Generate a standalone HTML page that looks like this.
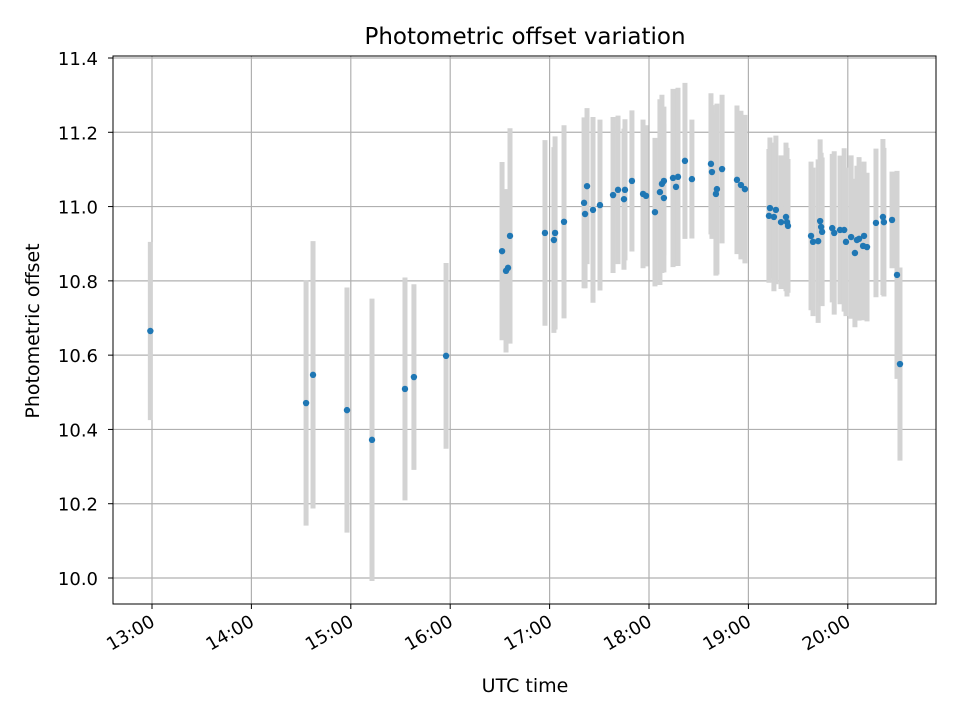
<!DOCTYPE html>
<html><head><meta charset="utf-8"><style>
body{margin:0;background:#fff;width:960px;height:720px;overflow:hidden}
svg text{font-family:"DejaVu Sans","Liberation Sans",sans-serif;fill:#000}
</style></head><body>
<svg id="chart" width="960" height="720" xmlns="http://www.w3.org/2000/svg">
<rect x="0" y="0" width="960" height="720" fill="#fff"/>
<g id="grid"></g>
<g id="bars"></g>
<g id="pts"></g>
<rect x="113" y="56" width="823" height="548" fill="none" stroke="#000" stroke-width="1"/>
<g id="ticks"></g>
<text x="525" y="44" font-size="23" text-anchor="middle">Photometric offset variation</text>
<text x="525" y="692" font-size="19" text-anchor="middle">UTC time</text>
<text x="39" y="331" font-size="19" text-anchor="middle" transform="rotate(-90 39 331)">Photometric offset</text>
</svg>
<script>
// minutes after 13:00 UTC
const times=[-1,93,97.2,117.7,132.8,152.7,158.1,177.5,211.3,213.7,214.9,216.1,237.2,242.6,243.3,248.7,260.8,261.4,262.6,266.2,270.4,278.3,281.3,284.9,285.5,289.7,296.4,298.2,303.6,306.6,307.8,309.0,309.0,314.5,316.3,317.5,321.7,325.9,337.4,338.0,341.0,340.4,344.1,353.1,355.5,357.9,373.0,372.4,376.6,375.4,379.7,382.7,383.3,383.9,397.8,399.0,402.1,403.3,403.9,404.5,410.6,411.8,415.3,417.8,418.9,422.0,424.3,425.5,426.8,429.2,429.8,431.6,437.0,441.2,441.8,446.7,449.7,451.5];
const offsets=[10.665,10.471,10.547,10.452,10.372,10.509,10.541,10.598,10.88,10.827,10.835,10.921,10.929,10.91,10.929,10.959,11.01,10.98,11.055,10.991,11.004,11.031,11.045,11.02,11.045,11.069,11.034,11.029,10.985,11.039,11.061,11.069,11.023,11.077,11.053,11.08,11.123,11.074,11.115,11.093,11.047,11.034,11.101,11.072,11.058,11.047,10.996,10.975,10.991,10.972,10.958,10.972,10.958,10.948,10.921,10.905,10.907,10.961,10.945,10.932,10.942,10.929,10.937,10.937,10.905,10.918,10.875,10.91,10.913,10.894,10.921,10.891,10.956,10.972,10.958,10.964,10.816,10.576];
const errors=[0.24,0.33,0.36,0.33,0.38,0.30,0.25,0.25,0.24,0.22,0.2,0.29,0.25,0.25,0.26,0.26,0.23,0.2,0.21,0.25,0.23,0.21,0.2,0.19,0.19,0.19,0.2,0.19,0.2,0.25,0.24,0.2,0.2,0.24,0.21,0.24,0.21,0.16,0.19,0.18,0.23,0.22,0.2,0.2,0.2,0.2,0.19,0.18,0.2,0.2,0.18,0.2,0.2,0.18,0.2,0.2,0.22,0.22,0.2,0.2,0.2,0.22,0.2,0.22,0.2,0.22,0.2,0.2,0.22,0.2,0.2,0.2,0.2,0.21,0.2,0.13,0.28,0.26];
const xTicks=[0,60,120,180,240,300,360,420];
const xTickLabels=["13:00","14:00","15:00","16:00","17:00","18:00","19:00","20:00"];
const yTicks=[10.0,10.2,10.4,10.6,10.8,11.0,11.2,11.4];

const NS="http://www.w3.org/2000/svg";
const X=m=>152+m*(99.4/60);
const Y=v=>578-(v-10)*(520/1.4);
function mk(tag,attrs,parent){const e=document.createElementNS(NS,tag);for(const k in attrs)e.setAttribute(k,attrs[k]);parent.appendChild(e);return e;}
const grid=document.getElementById('grid'),ticks=document.getElementById('ticks'),bars=document.getElementById('bars'),pts=document.getElementById('pts');
xTicks.forEach((t,i)=>{const x=X(t);
 const g=mk('line',{x1:x,x2:x,y1:56,y2:604,stroke:'#b0b0b0','stroke-width':1.2},grid);
 
 
 mk('line',{x1:x,x2:x,y1:604,y2:609,stroke:'#000'},ticks);
 const tx=mk('text',{x:x+4,y:625,'font-size':18,'text-anchor':'end',transform:`rotate(-30 ${x+4} 625)`},ticks);
 tx.textContent=xTickLabels[i];
 
 
});
yTicks.forEach(v=>{const y=Y(v);
 const g=mk('line',{x1:113,x2:936,y1:y,y2:y,stroke:'#b0b0b0','stroke-width':1.2},grid);
 
 
 mk('line',{x1:108,x2:113,y1:y,y2:y,stroke:'#000'},ticks);
 const tx=mk('text',{x:98,y:y+7,'font-size':18,'text-anchor':'end'},ticks);
 tx.textContent=v.toFixed(1);
 
 
});
times.forEach((t,i)=>{
 const b=mk('line',{x1:X(t),x2:X(t),y1:Y(offsets[i]+errors[i]),y2:Y(offsets[i]-errors[i]),stroke:'#d3d3d3','stroke-width':5},bars);
 
 
});
times.forEach((t,i)=>{
 const c=mk('circle',{cx:X(t),cy:Y(offsets[i]),r:3.2,fill:'#1f77b4'},pts);
 
 
});
</script>
</body></html>
